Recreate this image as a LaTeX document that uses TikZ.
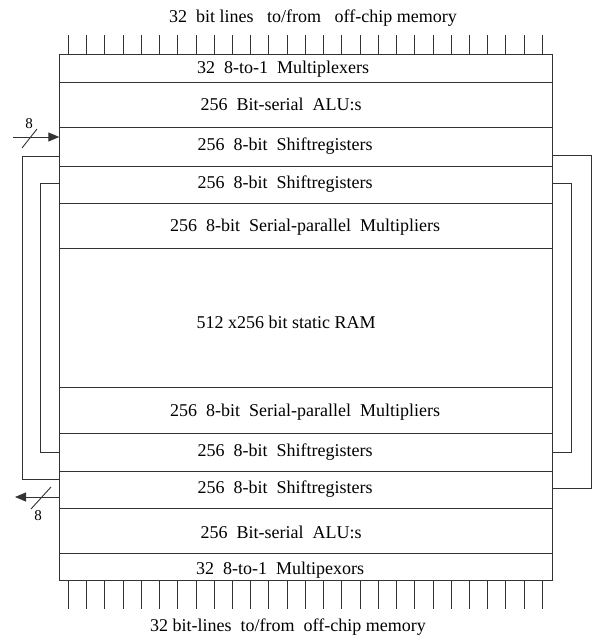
\documentclass[tikz,border=0pt]{standalone}
\usepackage{fontspec}
\setmainfont{Liberation Serif}
\usetikzlibrary{arrows.meta,positioning}

\begin{document}
\begin{tikzpicture}[
  x=1pt, y=-1pt,
  line width=0.9pt,
  draw=black!80,
  row/.style={draw, minimum width=493.4pt, inner sep=0pt, outer sep=0pt, anchor=north west},
  txt/.style={font=\fontsize{18}{20}\selectfont, inner sep=0pt},
  small/.style={font=\fontsize{15}{17}\selectfont, inner sep=0pt},
  arr/.style={-{Triangle[length=11pt,width=9pt]}},
  tick/.style={line width=0.8pt}
]
\useasboundingbox (0,0) rectangle (599,636);

% stacked rows of the chip
\node[row, minimum height=28pt] (mux1) at (59.3,54) {};
\node[row, minimum height=45pt] (alu1) at (59.3,82) {};
\node[row, minimum height=39pt] (sh1) at (59.3,127) {};
\node[row, minimum height=37pt] (sh2) at (59.3,166) {};
\node[row, minimum height=45pt] (mul1) at (59.3,203) {};
\node[row, minimum height=139pt] (ram) at (59.3,248) {};
\node[row, minimum height=46pt] (mul2) at (59.3,387) {};
\node[row, minimum height=38pt] (sh3) at (59.3,433) {};
\node[row, minimum height=37pt] (sh4) at (59.3,471) {};
\node[row, minimum height=45pt] (alu2) at (59.3,508) {};
\node[row, minimum height=27pt] (mux2) at (59.3,553) {};

\node[txt] (tmux1) at (283,69) {32~~8-to-1~~Multiplexers};
\node[txt] (talu1) at (281,104) {256~~Bit-serial~~ALU:s};
\node[txt] (tsh1) at (285,146) {256~~8-bit~~Shiftregisters};
\node[txt] (tsh2) at (285,184) {256~~8-bit~~Shiftregisters};
\node[txt] (tmul1) at (305,227) {256~~8-bit~~Serial-parallel~~Multipliers};
\node[txt] (tram) at (286,322) {512~x256~bit~static~RAM};
\node[txt] (tmul2) at (305,412) {256~~8-bit~~Serial-parallel~~Multipliers};
\node[txt] (tsh3) at (285,452) {256~~8-bit~~Shiftregisters};
\node[txt] (tsh4) at (285,489) {256~~8-bit~~Shiftregisters};
\node[txt] (talu2) at (281,532) {256~~Bit-serial~~ALU:s};
\node[txt] (tmux2) at (280,570) {32~~8-to-1~~Multipexors};

% bit lines to/from memory
\node[txt] (top) at (313,18) {32~~bit lines~~~to/from~~~off-chip memory};
\node[txt] (bot) at (288,627) {32 bit-lines~~to/from~~off-chip memory};
\foreach \i in {0,...,26}{
  \draw[tick] (68.3+\i*18.23,35) -- (68.3+\i*18.23,54);
  \draw[tick] (68.3+\i*18.23,580) -- (68.3+\i*18.23,609);
}

% feedback loops
\coordinate (lo1) at (59.3,156);
\coordinate (lo2) at (59.3,479);
\coordinate (li1) at (59.3,183);
\coordinate (li2) at (59.3,452);
\coordinate (ro1) at (552.7,155);
\coordinate (ro2) at (552.7,488);
\coordinate (ri1) at (552.7,183);
\coordinate (ri2) at (552.7,452);
\draw (lo1) -- ++(-36.6,0) |- (lo2);
\draw (li1) -- ++(-18.6,0) |- (li2);
\draw (ro1) -- ++(38.3,0) |- (ro2);
\draw (ri1) -- ++(18.3,0) |- (ri2);

% 8-bit input and output
\coordinate (din) at (13,137);
\coordinate (dinE) at (59.3,137);
\draw[arr] (din) -- (dinE);
\draw (22,148) -- (37,129);
\node[small] (nin) at (29,124) {8};
\coordinate (doutS) at (59.3,497);
\coordinate (dout) at (15,497);
\draw[arr] (doutS) -- (dout);
\draw (31,509) -- (51,487);
\node[small] (nout) at (38,516) {8};
\end{tikzpicture}
\end{document}
